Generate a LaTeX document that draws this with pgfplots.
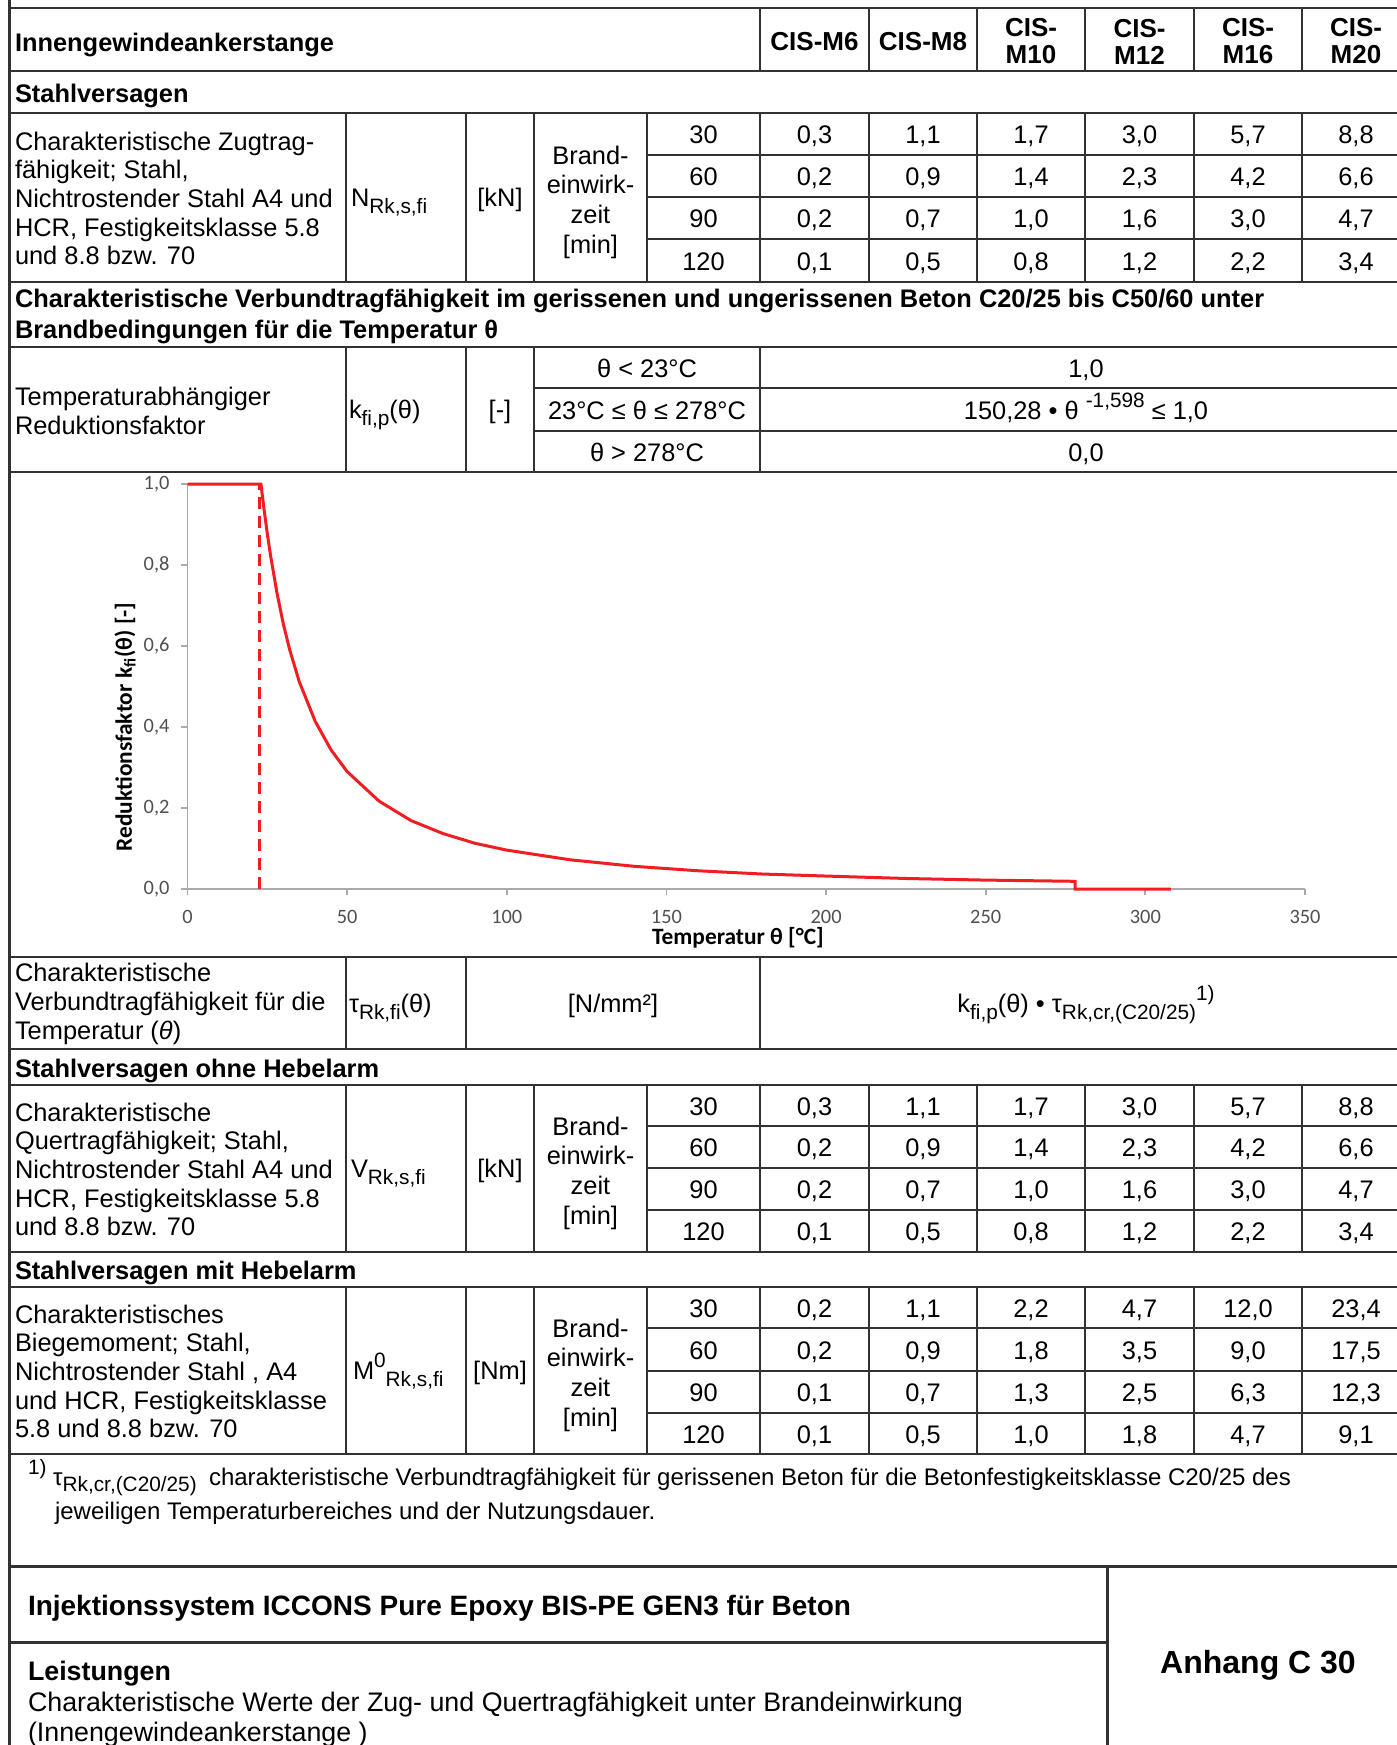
\documentclass[border=0pt]{standalone}
\usepackage{fontspec}
\setmainfont{Liberation Sans}
\newfontfamily\calfont{Carlito}
\usepackage{pgfplots}
\pgfplotsset{compat=1.18}
\definecolor{rl}{RGB}{240,30,35}
\definecolor{tl}{RGB}{50,50,50}
\definecolor{ax}{RGB}{170,170,170}
\definecolor{tk}{RGB}{80,80,80}
\newcommand\sub[1]{\raisebox{-0.55ex}{\fontsize{10.4}{10.4}\selectfont #1}}
\newcommand\sups[1]{\raisebox{0.85ex}{\fontsize{10.4}{10.4}\selectfont #1}}
\newcommand\bt{\fontsize{12.7}{14.35}\selectfont}
\newcommand\vrow[8]{%
 \node[s] at (703.5,#1) {#2};
 \node[s] at (814.5,#1) {#3};
 \node[s] at (923,#1) {#4};
 \node[s] at (1031,#1) {#5};
 \node[s] at (1139.5,#1) {#6};
 \node[s] at (1248,#1) {#7};
 \node[s] at (1356,#1) {#8};}
\begin{document}
\begin{tikzpicture}[x=0.5pt,y=-0.5pt,
  t/.style={inner sep=0pt,outer sep=0pt,font=\bt,text=black},
  s/.style={t,text height=9.1pt,text depth=0pt}]
\useasboundingbox (0,0) rectangle (1397,1745);
% ---------- grid lines
\begin{scope}[draw=tl, line width=1pt]
\draw (9,8) -- (1397,8);
\foreach \y in {71,113,282,347,472,957,1049,1085,1252,1287,1454} \draw (9,\y) -- (1397,\y);
\foreach \y in {155,197,239,1126,1168,1210,1328,1371,1413} \draw (647,\y) -- (1397,\y);
\foreach \y in {388,431} \draw (534,\y) -- (1397,\y);
\foreach \x in {760,869,977,1085,1194,1302} \draw (\x,8) -- (\x,71);
\foreach \x in {346,466,534,647,760,869,977,1085,1194,1302} {\draw (\x,113)--(\x,282); \draw (\x,1085)--(\x,1252); \draw (\x,1287)--(\x,1454);}
\foreach \x in {346,466,534,760} \draw (\x,347)--(\x,472);
\foreach \x in {346,466,760} \draw (\x,957)--(\x,1049);
\end{scope}
\draw[tl,line width=1.5pt] (9,1566)--(1397,1566);
\draw[tl,line width=1.5pt] (9,1642)--(1107,1642);
\draw[tl,line width=1.5pt] (1107,1566)--(1107,1745);
\draw[tl,line width=1.5pt] (9,0)--(9,1745);
% ---------- header
\node[s,anchor=west,font=\bt\bfseries] at (15,42) {Innengewindeankerstange};
\node[s,font=\fontsize{13}{14}\selectfont\bfseries] at (814.5,41) {CIS-M6};
\node[s,font=\fontsize{13}{14}\selectfont\bfseries] at (923,41) {CIS-M8};
\foreach \xx/\mm in {1031/M10,1139.5/M12,1248/M16,1356/M20}
  \node[t,font=\fontsize{13}{13.5}\selectfont\bfseries,align=center] at (\xx,41.5) {CIS-\\\mm};
% ---------- block 1
\node[s,anchor=west,font=\bt\bfseries] at (15,93) {Stahlversagen};
\node[t,anchor=west,align=left] at (15,198.5) {Charakteristische Zugtrag-\\fähigkeit; Stahl,\\Nichtrostender Stahl A4 und\\HCR, Festigkeitsklasse 5.8\\und 8.8 bzw. 70};
\node[s,anchor=west] at (351,197) {N\sub{Rk,s,fi}};
\node[s] at (500,197) {[kN]};
\node[t,align=center,font=\fontsize{12.7}{14.85}\selectfont] at (590.5,202) {Brand-\\einwirk-\\zeit\\{[min]}};
\vrow{134.5}{30}{0,3}{1,1}{1,7}{3,0}{5,7}{8,8}
\vrow{176.5}{60}{0,2}{0,9}{1,4}{2,3}{4,2}{6,6}
\vrow{218.5}{90}{0,2}{0,7}{1,0}{1,6}{3,0}{4,7}
\vrow{261}{120}{0,1}{0,5}{0,8}{1,2}{2,2}{3,4}
% ---------- kfi block
\node[t,anchor=west,align=left,font=\fontsize{12.7}{15.5}\selectfont\bfseries] at (15,316) {Charakteristische Verbundtragfähigkeit im gerissenen und ungerissenen Beton C20/25 bis C50/60 unter\\Brandbedingungen für die Temperatur θ};
\node[t,anchor=west,align=left] at (15,411) {Temperaturabhängiger\\Reduktionsfaktor};
\node[s,anchor=west] at (349,409) {k\sub{fi,p}(θ)};
\node[s] at (500,409) {[-]};
\node[s] at (647,368) {θ < 23°C};
\node[s] at (647,410) {23°C ≤ θ ≤ 278°C};
\node[s] at (647,452) {θ > 278°C};
\node[s] at (1086,368) {1,0};
\node[s] at (1086,410) {150,28 • θ \sups{-1,598} ≤ 1,0};
\node[s] at (1086,452) {0,0};
% ---------- chart
\begin{scope}[x=1pt,y=1pt]
\begin{axis}[
 at={(93.75pt,-444.5pt)}, anchor=south west,
 scale only axis, width=558.75pt, height=202.5pt,
 xmin=0,xmax=350,ymin=0,ymax=1, clip=false,
 axis lines=left, axis line style={-,draw=ax,line width=0.9pt},
 tick style={draw=ax,line width=0.9pt}, tick align=outside, major tick length=3pt,
 xtick={0,50,100,150,200,250,300,350},
 ytick={0,0.2,0.4,0.6,0.8,1},
 yticklabels={{0,0},{0,2},{0,4},{0,6},{0,8},{1,0}},
 xticklabel style={font=\calfont\fontsize{10.2}{11}\selectfont, text=tk, yshift=-4pt},
 yticklabel style={font=\calfont\fontsize{10.2}{11}\selectfont, text=tk, xshift=-2.5pt},
 /pgf/number format/assume math mode=true,
 xlabel={Temperatur θ [°C]},
 ylabel={Reduktionsfaktor k\textsubscript{fi}(θ) [-]},
 xlabel style={font=\calfont\bfseries\fontsize{11.7}{13}\selectfont, at={(rel axis cs:0.4926,-0.121)}, anchor=center},
 ylabel style={font=\calfont\bfseries\fontsize{11.7}{13}\selectfont, at={(rel axis cs:-0.0559,0.4)}, anchor=center},
]
\addplot[rl, line width=1.2pt, dash pattern=on 6pt off 3.5pt] coordinates {(22.5,0) (22.5,1)};
\addplot[rl, line width=1.5pt] coordinates {
(0,1) (23,1) (24,0.936) (25,0.877) (26,0.824) (28,0.732) (30,0.655) (32,0.591)
(35,0.512) (40,0.414) (45,0.343) (50,0.290) (60,0.217) (70,0.169) (80,0.137)
(90,0.113) (100,0.096) (120,0.072) (140,0.056) (160,0.045) (180,0.037)
(200,0.032) (225,0.026) (250,0.022) (278,0.019) (278,0) (308,0)};
\end{axis}
\end{scope}
% ---------- tau row
\node[t,anchor=west,align=left] at (15,1004) {Charakteristische\\Verbundtragfähigkeit für die\\Temperatur (\textit{θ})};
\node[s,anchor=west] at (349,1003) {τ\sub{Rk,fi}(θ)};
\node[s] at (613,1003) {[N/mm²]};
\node[s] at (1086,1003) {k\sub{fi,p}(θ) • τ\sub{Rk,cr,(C20/25)}\sups{1)}};
% ---------- block 2
\node[s,anchor=west,font=\bt\bfseries] at (15,1068) {Stahlversagen ohne Hebelarm};
\node[t,anchor=west,align=left] at (15,1169.5) {Charakteristische\\Quertragfähigkeit; Stahl,\\Nichtrostender Stahl A4 und\\HCR, Festigkeitsklasse 5.8\\und 8.8 bzw. 70};
\node[s,anchor=west] at (351,1168) {V\sub{Rk,s,fi}};
\node[s] at (500,1168) {[kN]};
\node[t,align=center,font=\fontsize{12.7}{14.85}\selectfont] at (590.5,1173) {Brand-\\einwirk-\\zeit\\{[min]}};
\vrow{1106}{30}{0,3}{1,1}{1,7}{3,0}{5,7}{8,8}
\vrow{1147.5}{60}{0,2}{0,9}{1,4}{2,3}{4,2}{6,6}
\vrow{1189.5}{90}{0,2}{0,7}{1,0}{1,6}{3,0}{4,7}
\vrow{1231.5}{120}{0,1}{0,5}{0,8}{1,2}{2,2}{3,4}
% ---------- block 3
\node[s,anchor=west,font=\bt\bfseries] at (15,1270.5) {Stahlversagen mit Hebelarm};
\node[t,anchor=west,align=left] at (15,1371.5) {Charakteristisches\\Biegemoment; Stahl,\\Nichtrostender Stahl , A4\\und HCR, Festigkeitsklasse\\5.8 und 8.8 bzw. 70};
\node[s,anchor=west] at (353,1370) {M\sups{0}\sub{Rk,s,fi}};
\node[s] at (500,1370) {[Nm]};
\node[t,align=center,font=\fontsize{12.7}{14.85}\selectfont] at (590.5,1375) {Brand-\\einwirk-\\zeit\\{[min]}};
\vrow{1308}{30}{0,2}{1,1}{2,2}{4,7}{12,0}{23,4}
\vrow{1350}{60}{0,2}{0,9}{1,8}{3,5}{9,0}{17,5}
\vrow{1392.5}{90}{0,1}{0,7}{1,3}{2,5}{6,3}{12,3}
\vrow{1434}{120}{0,1}{0,5}{1,0}{1,8}{4,7}{9,1}
% ---------- footnote
\node[t,anchor=base west,font=\fontsize{12}{13}\selectfont] at (28,1485) {\sups{1)}\ τ{\fontsize{12}{12}\selectfont\sub{Rk,cr,(C20/25)}}};
\node[t,anchor=base west,font=\fontsize{12}{13}\selectfont] at (209,1485) {charakteristische Verbundtragfähigkeit für gerissenen Beton für die Betonfestigkeitsklasse C20/25 des};
\node[t,anchor=base west,font=\fontsize{12}{13}\selectfont] at (55,1519) {jeweiligen Temperaturbereiches und der Nutzungsdauer.};
% ---------- title block
\node[t,anchor=base west,font=\fontsize{14}{15}\selectfont\bfseries] at (28,1615) {Injektionssystem ICCONS Pure Epoxy BIS-PE GEN3 für Beton};
\node[t,anchor=base west,font=\fontsize{13.4}{15}\selectfont\bfseries] at (28,1680) {Leistungen};
\node[t,anchor=base west,font=\fontsize{13.4}{15}\selectfont] at (28,1711) {Charakteristische Werte der Zug- und Quertragfähigkeit unter Brandeinwirkung};
\node[t,anchor=base west,font=\fontsize{13.4}{15}\selectfont] at (28,1741) {(Innengewindeankerstange )};
\node[t,anchor=base,font=\fontsize{16}{18}\selectfont\bfseries] at (1258,1673.5) {Anhang C 30};
\end{tikzpicture}
\end{document}
